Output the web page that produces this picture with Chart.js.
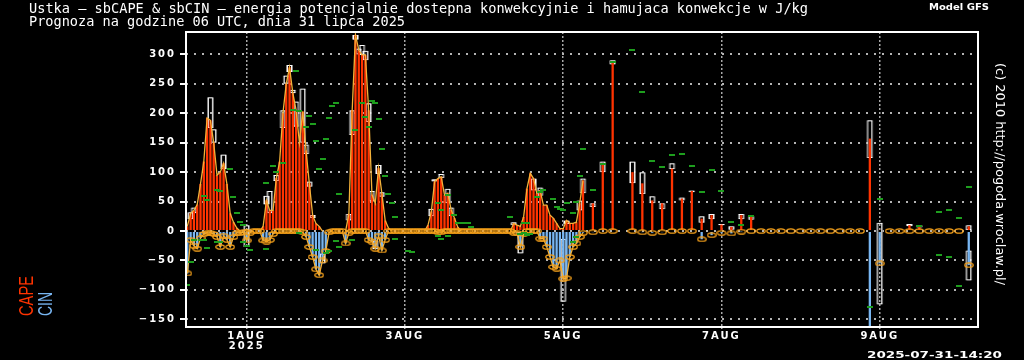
<!DOCTYPE html>
<html><head><meta charset="utf-8">
<script src="https://cdn.jsdelivr.net/npm/chart.js@4/dist/chart.umd.min.js"></script>
<style>html,body{margin:0;padding:0;background:#000;overflow:hidden}canvas{display:block}</style>
</head><body>
<canvas id="c" width="1024" height="360"></canvas>
<script>
// ---- DATA ----
const titleLine1 = 'Ustka — sbCAPE & sbCIN — energia potencjalnie dostepna konwekcyjnie i hamujaca konwekcje w J/kg';
const titleLine2 = 'Prognoza na godzine 06 UTC, dnia 31 lipca 2025';
const modelLabel = 'Model GFS';
const stampLabel = '2025-07-31-14:20';
const copyLabel = '(c) 2010 http://pogoda.wroclaw.pl/';

// forecast hours since 31 Jul 06 UTC: hourly 0..120, then every 3 h
const hourlyHours = []; for (let h = 0; h <= 120; h++) hourlyHours.push(h);
const threeHourlyHours = []; for (let h = 123; h <= 237; h += 3) threeHourlyHours.push(h);

const hourlyCape = [
  8,30,35,45,80,118,192,188,150,95,100,115,80,30,15,5,
  0,0,3,0,0,0,0,
  8,52,35,35,90,118,200,250,278,234,205,150,203,137,81,27,13,8,
  0,0,0,0,0,0,0,0,
  29,205,333,307,299,299,205,62,47,107,64,18,5,
  0,0,0,0,0,0,0,0,0,0,0,
  10,33,84,89,92,61,64,36,22,7,
  0,0,0,0,0,0,0,0,0,0,0,0,0,0,0,0,
  13,10,8,24,72,98,89,64,69,44,44,27,22,13,4,4,18,13,13,15,47,86
];
const hourlyCin = [
  -72,-15,-25,-30,-12,-5,-3,-3,-5,-10,-27,-8,-15,-27,-10,-3,
  -3,-2,-16,-3,0,0,0,
  -16,-18,-15,-5,0,0,0,0,0,0,0,0,-2,-10,-27,-44,-65,-75,
  -50,-34,-2,0,0,0,0,-21,
  -3,0,0,0,0,0,-15,-18,-30,-8,-33,-15,0,
  0,0,0,0,0,0,0,0,0,0,0,
  0,0,0,-2,-2,0,0,0,0,0,
  0,0,0,0,0,0,0,0,0,0,0,0,0,0,0,0,
  -3,-3,-27,-5,0,0,0,0,-13,-13,-27,-44,-61,-64,-50,-81,-80,-44,-27,-21,-10,-3
];
const threeHourlyCape = [
  47,115,287,null,100,81,52,47,106,55,
  68,21,27,11,7,27,24,
  0,0,0,0,0,0,0,0,0,0,0,
  157,2,0,0,10,8,0,0,0,0,8
];
const threeHourlyCin = [
  -2,0,0,null,0,-2,-3,-2,0,0,
  0,-14,-7,-3,-4,-1,0,
  0,0,0,0,0,0,0,0,0,0,0,
  -170,-55,0,0,0,0,0,0,0,0,-58
];

// range boxes (hollow rectangles)
const boxHours = [1,2,7,8,11,18,24,25,27,29,30,31,32,33,35,36,37,38,41,49,50,51,52,53,54,55,56,57,58,59,74,75,77,79,80,99,101,105,107,114,115,119,120,123,126,129,135,138,141,144,147,150,153,156,159,162,165,168,171,207,210,219,222,237,237];
const boxLow  = [20,30,175,150,105,-27,45,30,85,175,250,270,234,177,150,131,75,22,-55,18,163,325,300,299,290,185,50,-31,97,58,25,84,90,47,25,10,-38,69,60,-120,12,35,64,41,100,283,81,63,47,37,105,52,66,14,20,10,2,20,19,124,-125,8,6,0,-84];
const boxHigh = [32,40,227,173,130,10,60,68,95,205,264,282,240,220,242,147,84,27,-38,29,205,333,310,316,306,217,68,-16,112,66,38,88,97,72,40,15,0,89,74,-13,18,52,89,47,118,290,118,100,59,47,115,57,69,25,29,12,8,29,25,188,14,12,10,10,-33];

// green marks
const greenCapeHours  = [5,6,9,10,13,14,15,16,17,24,26,27,29,32,33,34,36,37,38,39,40,41,42,43,44,45,46,51,53,54,55,56,57,58,59,60,61,62,63,76,77,79,81,82,83,84,85,86,98,102,103,106,107,108,111,112,113,114,115,117,118,119,120,123,126,129,135,138,141,144,147,150,153,156,159,162,165,168,171,210,222,228,231,234,237];
const greenCapeValues = [59,53,70,68,106,58,31,16,10,81,110,100,116,205,271,203,177,195,181,153,105,122,156,192,213,218,63,171,218,194,176,221,218,190,139,94,63,47,24,47,35,61,27,13,13,13,13,6,24,14,13,58,67,70,55,41,38,36,48,30,50,94,139,69,114,287,307,236,119,108,129,131,111,67,103,68,16,11,25,55,8,32,35,22,75];
const greenCinHours  = [0,1,2,4,5,6,9,10,17,18,19,24,34,39,42,43,45,46,50,63,67,68,76,77,79,101,102,103,104,117,118,207,228,231,234];
const greenCinValues = [-91,-53,-16,-16,-16,-29,-18,-18,-18,-26,-32,-30,-4,-33,-37,-34,-17,-27,-16,-14,-34,-36,-8,-13,-8,-5,-4,-7,-5,-18,-10,-129,-41,-44,-94];

// axes
const yTickValues = [-150,-100,-50,0,50,100,150,200,250,300];
const xTickHours = [18,66,114,162,210];
const xTickLabels = [['1AUG','2025'],'3AUG','5AUG','7AUG','9AUG'];

// ---- BUILD ----
const allHours = hourlyHours.concat(threeHourlyHours);
const allCape = hourlyCape.concat(threeHourlyCape);
const allCin = hourlyCin.concat(threeHourlyCin);
const pts = (xs, ys) => xs.map((x,i)=>({x:x, y:ys[i]})).filter(p=>p.y!==null && p.y!==undefined);
const boxPts = boxHours.map((h,i)=>({x:h, y:[boxLow[i], boxHigh[i]]}));

const ORANGE = '#f7a21b';
const LINE_ORANGE = '#f4b23a';
function makeEllipse(){
  const c = document.createElement('canvas'); c.width = 10; c.height = 6;
  const g = c.getContext('2d'); g.strokeStyle = ORANGE; g.lineWidth = 1.3;
  g.beginPath(); g.ellipse(5,3,4.2,2.2,0,0,Math.PI*2); g.stroke(); return c;
}
function makeDash(){
  const c = document.createElement('canvas'); c.width = 6; c.height = 2;
  const g = c.getContext('2d'); g.fillStyle = '#1e9e1e'; g.fillRect(0,0,6,2); return c;
}
const ellipse = makeEllipse(), dash = makeDash();
const hideFlat = { borderColor: s => (s.p0.parsed.y === 0 && s.p1.parsed.y === 0) ? 'rgba(0,0,0,0)' : undefined };

function fitText(ctx, txt, x, y, w, font, color, rot){
  ctx.save(); ctx.letterSpacing = '0px'; ctx.font = font; ctx.fillStyle = color;
  ctx.textBaseline = 'alphabetic'; ctx.textAlign = 'left';
  const m = ctx.measureText(txt).width;
  ctx.translate(x, y); if (rot) ctx.rotate(rot); ctx.scale(w/m, 1);
  ctx.fillText(txt, 0, 0); ctx.restore();
}

const decor = {
  id: 'decor',
  beforeDraw(chart){
    const c = chart.ctx; c.save(); c.fillStyle = '#000'; c.fillRect(0,0,chart.width,chart.height); c.restore();
    c.letterSpacing = '2px';
  },
  beforeDatasetsDraw(chart){ chart.ctx.letterSpacing = '0px'; },
  afterDraw(chart){
    const c = chart.ctx, a = chart.chartArea;
    c.save(); c.letterSpacing = '0px';
    c.strokeStyle = '#fff'; c.lineWidth = 2;
    c.strokeRect(a.left, a.top, a.right - a.left, a.bottom - a.top);
    c.restore();
    fitText(c, titleLine1, 29, 13, 779, '13.6px "DejaVu Sans Mono"', '#fff');
    fitText(c, titleLine2, 29, 26, 376, '13.6px "DejaVu Sans Mono"', '#fff');
    fitText(c, modelLabel, 929, 10, 60, 'bold 9px "DejaVu Sans"', '#fff');
    fitText(c, stampLabel, 867, 358, 135, 'bold 9px "DejaVu Sans"', '#fff');
    fitText(c, copyLabel, 996, 63, 222, '13px "DejaVu Sans"', '#fff', Math.PI/2);
    fitText(c, 'CAPE', 33, 316, 40, '20px "Liberation Sans"', '#ff3300', -Math.PI/2);
    fitText(c, 'CIN', 52, 316, 24, '20px "Liberation Sans"', '#78b6f2', -Math.PI/2);
  }
};

new Chart(document.getElementById('c').getContext('2d'), {
  type: 'bar',
  plugins: [decor],
  data: { datasets: [
    { type:'line', data: pts(greenCapeHours, greenCapeValues), showLine:false, pointStyle: dash, pointRadius: 3, order: 0 },
    { type:'line', data: pts(greenCinHours, greenCinValues), showLine:false, pointStyle: dash, pointRadius: 3, order: 0 },
    { type:'line', data: pts(hourlyHours, hourlyCin), borderColor: LINE_ORANGE, borderWidth: 1.3, pointStyle: ellipse, pointRadius: 4, tension: 0, segment: hideFlat, order: 1 },
    { type:'line', data: pts(threeHourlyHours, threeHourlyCin), showLine:false, pointStyle: ellipse, pointRadius: 4, order: 1 },
    { type:'line', data: pts(hourlyHours, hourlyCape), borderColor: LINE_ORANGE, borderWidth: 1.3, pointRadius: 0, tension: 0, segment: hideFlat, order: 2 },
    { type:'bar', data: pts(allHours, allCape), backgroundColor: '#ff3300', barThickness: 2.3, grouped: false, inflateAmount: 0, borderWidth: 0, clip: 0, order: 3 },
    { type:'bar', data: pts(allHours, allCin), backgroundColor: '#78b6f2', barThickness: 2.3, grouped: false, inflateAmount: 0, borderWidth: 0, clip: 0, order: 4 },
    { type:'bar', data: boxPts, backgroundColor: 'rgba(0,0,0,0)', borderColor: '#ffffff', borderWidth: 1, borderSkipped: false, barThickness: 5, grouped: false, inflateAmount: 0, clip: 0, order: 5 },
    { type:'bar', data: boxPts, backgroundColor: 'rgba(0,0,0,0)', borderColor: '#8c8c8c', borderWidth: 1, borderSkipped: false, barThickness: 7, grouped: false, inflateAmount: 0, clip: 0, order: 6 }
  ]},
  options: {
    responsive: false, animation: false, devicePixelRatio: 1,
    layout: { padding: { left: 0, right: 46, top: 32, bottom: 0 } },
    plugins: { legend: { display: false }, tooltip: { enabled: false } },
    scales: {
      x: {
        type: 'linear', min: -0.4, max: 239.8, offset: false,
        afterBuildTicks: s => { s.ticks = xTickHours.map(v => ({ value: v })); },
        afterFit: s => { s.height = 33; },
        grid: { offset: false, color: '#a8a8a8', lineWidth: 1.5, tickLength: 4, tickColor: '#a8a8a8', tickWidth: 1.5, tickBorderDash: [2,2] },
        border: { display: false, dash: [2,2] },
        ticks: { color: '#fff', autoSkip: false, maxRotation: 0, padding: 0,
                 font: { family: 'DejaVu Sans', weight: 'bold', size: 10, lineHeight: 1.0 },
                 callback: (v) => { const i = xTickHours.indexOf(v); return i >= 0 ? xTickLabels[i] : ''; } }
      },
      y: {
        min: -163, max: 338,
        afterBuildTicks: s => { s.ticks = yTickValues.map(v => ({ value: v })); },
        afterFit: s => { s.width = 186; },
        grid: { color: '#b4b4b4', lineWidth: 2, tickLength: 6, tickColor: '#fff', tickWidth: 2, tickBorderDash: [] },
        border: { display: false, dash: [2,6] },
        ticks: { color: '#fff', padding: 4, font: { family: 'DejaVu Sans', weight: 'bold', size: 10 },
                 callback: v => v < 0 ? '\u2212' + (-v) : String(v) }
      }
    }
  }
});
</script></body></html>
